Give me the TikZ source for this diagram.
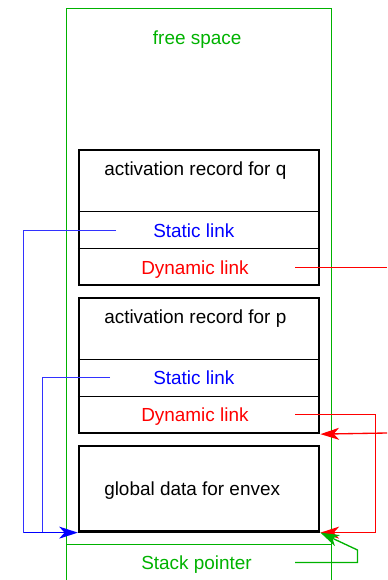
\documentclass[tikz,border=0pt]{standalone}
\usepackage{fontspec}
\setmainfont{Liberation Sans}
\usetikzlibrary{arrows.meta,fit}
\definecolor{fgreen}{RGB}{0,178,0}
\definecolor{fred}{RGB}{255,0,0}
\definecolor{fblue}{RGB}{0,0,255}
\definecolor{lblue}{RGB}{50,50,255}
\begin{document}
\begin{tikzpicture}[x=0.75pt,y=-0.75pt,
  lbl/.style={anchor=base west,inner sep=0pt,font=\fontsize{14.2}{17}\selectfont},
  rec/.style={draw=black,line width=1.7pt,inner sep=0pt},
  sep/.style={draw=black,line width=0.8pt},
  frame/.style={draw=fgreen,line width=0.9pt},
  tipA/.style={-{Stealth[length=14pt,width=9pt,inset=4pt]}},
  slink/.style={draw=lblue,line width=1pt},
  dlink/.style={draw=fred,line width=1pt},
  splink/.style={draw=fgreen,line width=1pt}]
\useasboundingbox (0,0) rectangle (387,580);
% outer frame
\coordinate (fbl) at (66.5,580);
\coordinate (ftl) at (66.5,8.5);
\coordinate (ftr) at (331.5,8.5);
\coordinate (fbr) at (331.5,580);
\draw[frame] (fbl) -- (ftl) -- (ftr) -- (fbr);
\coordinate (gl) at (66.5,544.5);
\coordinate (gr) at (331.5,544.5);
\draw[frame] (gl) -- (gr);
% boxes
\node[rec,fit={(79,150)(319.3,285)}] (qrec) {};
\node[rec,fit={(79,297.7)(319.3,433)}] (prec) {};
\node[rec,fit={(79,445.7)(319.3,531.5)}] (grec) {};
\draw[sep] (qrec.west |- 0,211.5) -- (qrec.east |- 0,211.5);
\draw[sep] (qrec.west |- 0,248.5) -- (qrec.east |- 0,248.5);
\draw[sep] (prec.west |- 0,359.5) -- (prec.east |- 0,359.5);
\draw[sep] (prec.west |- 0,396.5) -- (prec.east |- 0,396.5);
% texts
\node[lbl,text=fgreen] (free) at (152.7,45) {free space};
\node[lbl] (qtitle) at (104,175.7) {activation record for q};
\node[lbl,text=fblue] (qstat) at (153,237.3) {Static link};
\node[lbl,text=fred] (qdyn) at (141,274) {Dynamic link};
\node[lbl] (ptitle) at (104,323.3) {activation record for p};
\node[lbl,text=fblue] (pstat) at (153,384.3) {Static link};
\node[lbl,text=fred] (pdyn) at (141,421) {Dynamic link};
\node[lbl] (gtitle) at (104,495) {global data for envex};
\node[lbl,text=fgreen] (sp) at (141,569) {Stack pointer};
% static links
\coordinate (qs0) at (116,230.5);
\coordinate (qs1) at (23.5,230.5);
\coordinate (ps0) at (110,377.5);
\coordinate (ps1) at (42.5,377.5);
\draw[slink] (qs0) -- (qs1) -- (qs1 |- grec.south west);
\draw[slink] (ps0) -- (ps1) -- (ps1 |- grec.south west);
\draw[slink,tipA,fblue] (qs1 |- grec.south west) -- (grec.south west);
% dynamic links
\coordinate (qd0) at (295,267.5);
\coordinate (qd1) at (387,267.5);
\draw[dlink] (qd0) -- (qd1);
\coordinate (pin) at (387,433);
\draw[dlink,tipA,fred] (pin) -- (prec.south east);
\coordinate (pd0) at (295,414.5);
\coordinate (pd1) at (375.5,414.5);
\draw[dlink,tipA,fred] (pd0) -- (pd1) -- (pd1 |- grec.south east) -- (grec.south east);
% stack pointer
\coordinate (sp0) at (295,562.5);
\coordinate (sp1) at (357.5,562.5);
\coordinate (sp2) at (357.5,550);
\draw[splink,tipA,fgreen] (sp0) -- (sp1) -- (sp2) -- (grec.south east);
\end{tikzpicture}
\end{document}
